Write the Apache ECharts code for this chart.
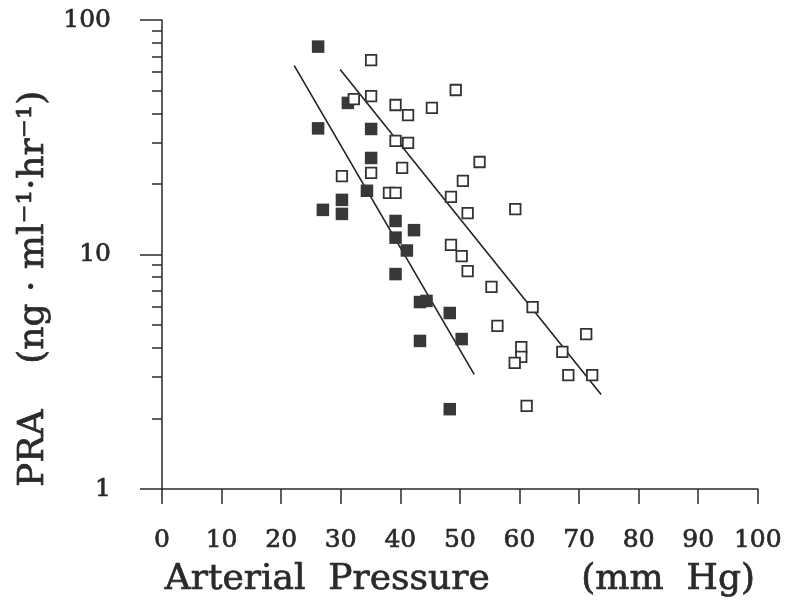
<!DOCTYPE html>
<html>
<head>
<meta charset="utf-8">
<script src="https://cdn.jsdelivr.net/npm/echarts@6/dist/echarts.min.js"></script>
<style>
html,body{margin:0;padding:0;background:#fff;}
#chart{width:785px;height:606px;}
</style>
</head>
<body>
<div id="chart"></div>
<script>
// Filled squares (x = arterial pressure, y = PRA)
var filledX = [26.2, 26.2, 27.0, 30.2, 30.2, 31.2, 35.1, 35.1, 34.4, 39.2, 42.3, 39.2, 41.1, 39.2, 43.3, 44.4, 48.3, 50.3, 43.3, 48.3];
var filledY = [77, 34.5, 15.5, 17.1, 14.9, 44.3, 34.3, 25.8, 18.7, 13.9, 12.7, 11.8, 10.4, 8.25, 6.27, 6.34, 5.63, 4.36, 4.28, 2.19];
// Open squares
var openX = [35.1, 32.2, 35.1, 39.2, 41.3, 45.3, 49.3, 39.2, 41.3, 30.2, 35.1, 40.3, 38.1, 39.2, 53.3, 50.5, 48.5, 51.3, 59.3, 48.5, 50.3, 51.3, 55.3, 62.2, 56.3, 71.2, 60.3, 60.3, 59.2, 67.2, 68.2, 72.2, 61.2];
var openY = [67.5, 46, 47.4, 43.4, 39.3, 42.2, 50.3, 30.5, 29.9, 21.6, 22.3, 23.4, 18.3, 18.3, 24.8, 20.6, 17.6, 15.0, 15.6, 11.0, 9.85, 8.5, 7.27, 5.97, 4.96, 4.58, 4.03, 3.66, 3.45, 3.84, 3.06, 3.06, 2.26];
// Regression lines (endpoints)
var filledLineX = [22.2, 52.4];
var filledLineY = [63.9, 3.08];
var openLineX = [29.9, 73.7];
var openLineY = [61.5, 2.53];
// Tick values
var xTicks = [0, 10, 20, 30, 40, 50, 60, 70, 80, 90, 100];
var yMajor = [1, 10, 100];
var yMinor = [2, 3, 4, 5, 6, 7, 8, 9, 20, 30, 40, 50, 60, 70, 80, 90];

function zip(a, b) { return a.map(function (v, i) { return [v, b[i]]; }); }

var ink = '#2a2a2a';
var font = 'DejaVu Serif';
var heavy = {textBorderColor: ink, textBorderWidth: 0.7};

var chart = echarts.init(document.getElementById('chart'), null, {renderer: 'canvas'});
chart.setOption({
  backgroundColor: '#ffffff',
  animation: false,
  grid: {left: 162, right: 26, top: 20, bottom: 117, containLabel: false},
  xAxis: {
    type: 'value', min: 0, max: 100, interval: 10,
    axisLine: {show: true, lineStyle: {color: ink, width: 1.5}},
    axisTick: {show: true, length: 15, inside: false, lineStyle: {color: ink, width: 1.5}},
    axisLabel: Object.assign({show: true, margin: 39, fontFamily: font, fontSize: 25, color: ink,
      customValues: xTicks}, heavy),
    splitLine: {show: false},
    name: 'Arterial  Pressure        (mm  Hg)',
    nameLocation: 'middle', nameGap: 73,
    nameTextStyle: Object.assign({fontFamily: font, fontSize: 36, color: ink}, heavy)
  },
  yAxis: [{
    type: 'log', logBase: 10, min: 1, max: 100,
    axisLine: {show: true, lineStyle: {color: ink, width: 1.5}},
    axisTick: {show: true, length: 22, customValues: yMajor, lineStyle: {color: ink, width: 1.5}},
    axisLabel: Object.assign({show: true, margin: 51, fontFamily: font, fontSize: 25, color: ink, customValues: yMajor}, heavy),
    splitLine: {show: false},
    name: 'PRA    (ng · ml\u207B\u00B9·hr\u207B\u00B9)\u00A0\u00A0\u00A0\u00A0\u00A0\u00A0',
    nameLocation: 'middle', nameGap: 98, nameRotate: 90,
    nameTextStyle: Object.assign({fontFamily: font, fontSize: 36, color: ink}, heavy)
  }, {
    type: 'log', logBase: 10, min: 1, max: 100, position: 'left',
    axisLine: {show: false},
    axisTick: {show: true, length: 10, customValues: yMinor, lineStyle: {color: ink, width: 1.5}},
    axisLabel: {show: false},
    splitLine: {show: false}
  }],
  series: [
    {
      type: 'line', data: zip(filledLineX, filledLineY), symbol: 'none', silent: true,
      lineStyle: {color: '#222', width: 1.6}, z: 1
    },
    {
      type: 'line', data: zip(openLineX, openLineY), symbol: 'none', silent: true,
      lineStyle: {color: '#222', width: 1.6}, z: 1
    },
    {
      type: 'scatter', data: zip(filledX, filledY), symbol: 'rect', symbolSize: 12.5,
      itemStyle: {color: '#383838', opacity: 1}, z: 2
    },
    {
      type: 'scatter', data: zip(openX, openY), symbol: 'rect', symbolSize: 10.5,
      itemStyle: {color: '#ffffff', borderColor: '#333', borderWidth: 1.8, opacity: 1}, z: 3
    }
  ]
});
</script>
</body>
</html>
